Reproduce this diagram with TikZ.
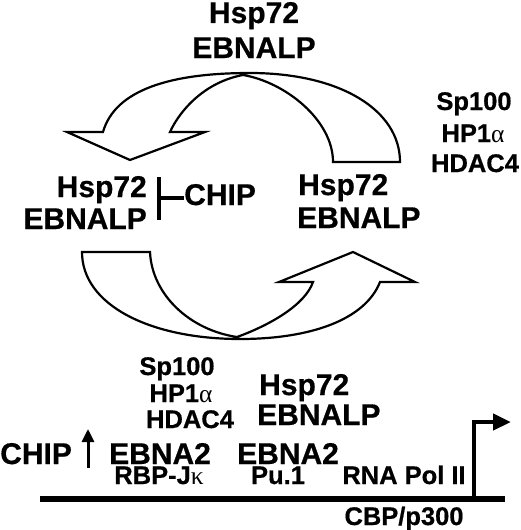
\documentclass[tikz,border=0pt]{standalone}
\usepackage{fontspec}
\setmainfont{Liberation Sans}[BoldFeatures={FakeBold=0.6}]
\newfontfamily\greekfont{Liberation Serif}
\usetikzlibrary{arrows.meta}

\tikzset{
  big/.style={font=\fontsize{30}{32}\selectfont\bfseries, inner sep=0pt},
  small/.style={font=\fontsize{25.5}{27}\selectfont\bfseries, inner sep=0pt},
  band/.style={draw, line width=2.2pt, fill=white, line join=miter},
}
\newcommand{\grk}[1]{{\greekfont\mdseries #1}}

\begin{document}
\begin{tikzpicture}[x=1pt,y=-1pt,>=Stealth]
\useasboundingbox (0,0) rectangle (520,530);

% Upper curved arrow (pointing down-left)
\draw[band]
(130,160) -- (205,132) -- (170,132)
.. controls (180,110) and (205,82) .. (243,75)
.. controls (285,82) and (333,120) .. (333,162)
-- (400,162)
.. controls (400,110) and (340,73) .. (250,73)
.. controls (170,73) and (115,90) .. (103,132)
-- (67,132) -- cycle;

% Lower curved arrow (pointing up-right)
\draw[band]
(353,252) -- (415,282) -- (380,282)
.. controls (365,320) and (310,339) .. (240,339)
.. controls (150,339) and (82,305) .. (82,252)
-- (150,252)
.. controls (152,295) and (190,330) .. (237,337)
.. controls (270,325) and (305,305) .. (313,282)
-- (279,282) -- cycle;

% Top complex
\node[big, anchor=base] (tophsp) at (254,23) {Hsp72};
\node[big, anchor=base] (topebna) at (254,58) {EBNALP};

% Right repressors
\node[small, anchor=base] (rsp) at (474,110) {Sp100};
\node[small, anchor=base] (rhp) at (473,142) {HP1\grk{α}};
\node[small, anchor=base] (rhdac) at (475,172) {HDAC4};

% Left complex, inhibited by CHIP
\node[big, anchor=base east] (lhsp) at (147,197) {Hsp72};
\node[big, anchor=base east] (lebna) at (147,229) {EBNALP};
\node[big, anchor=base west] (chipm) at (184,205) {CHIP};
\coordinate (bar) at (157,198);
\draw[line width=3.5pt, -{Bar[width=43pt,line width=3.5pt]}] (chipm.west |- bar) -- (bar);

% Right complex
\node[big, anchor=base west] (rhsp) at (298,195) {Hsp72};
\node[big, anchor=base west] (rebna) at (297,228) {EBNALP};

% Promoter complexes
\node[small, anchor=base] (bsp) at (177,375) {Sp100};
\node[small, anchor=base] (bhp) at (181,402) {HP1\grk{α}};
\node[small, anchor=base] (bhdac) at (190,428) {HDAC4};
\node[big, anchor=base west] (bhsp) at (259,395) {Hsp72};
\node[big, anchor=base west] (bebna) at (257,425) {EBNALP};

\node[big, anchor=base west] (chipb) at (0,464) {CHIP};
\coordinate (up0) at (88,468);
\coordinate (up1) at (88,429);
\draw[line width=3pt, -{Triangle[length=13pt,width=12pt]}] (up0) -- (up1);

\node[big, anchor=base west] (ebnaa) at (109,464) {EBNA2};
\node[big, anchor=base west] (ebnab) at (237,464) {EBNA2};
\node[small, anchor=base] (rbp) at (159,484) {RBP-J\grk{κ}};
\node[small, anchor=base] (pu) at (278,484) {Pu.1};
\node[small, anchor=base] (pol) at (404,484) {RNA Pol II};
\node[small, anchor=base] (cbp) at (404,525) {CBP/p300};

% DNA and transcription start
\coordinate (dnaL) at (40,499);
\coordinate (dnaR) at (505,499);
\coordinate (tss) at (474,499);
\coordinate (tssTop) at (474,422);
\coordinate (tssTip) at (511,422);
\draw[line width=5.5pt] (dnaL) -- (dnaR);
\draw[line width=4.5pt, -{Triangle[length=18pt,width=16pt]}] (tss) -- (tssTop) -- (tssTip);

\end{tikzpicture}
\end{document}
